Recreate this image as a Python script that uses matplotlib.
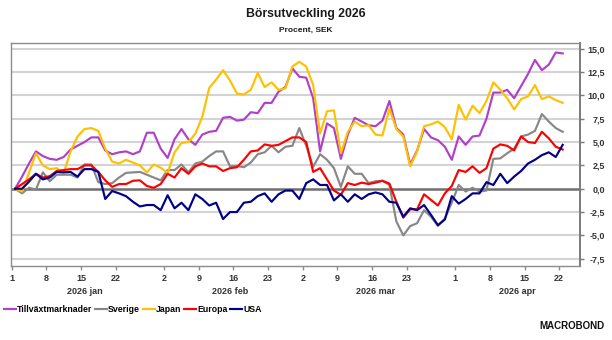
import matplotlib
matplotlib.use('Agg')
import matplotlib.pyplot as plt
import matplotlib.transforms as mtrans
from matplotlib import font_manager
import numpy as np
import pandas as pd

# business days on the x axis, one point per trading day
days = pd.bdate_range('2026-01-01', '2026-04-30')

tillvaxt = [0, 1.3, 2.7, 4.0, 3.5, 3.2, 3.1, 3.4, 4.2, 4.6,
            5.0, 5.5, 5.5, 4.1, 3.7, 3.9, 4.0, 3.7, 4.0, 6.0,
            6.0, 4.3, 3.3, 5.3, 6.4, 5.3, 4.7, 5.8, 6.1, 6.2,
            7.6, 7.7, 7.3, 7.4, 8.2, 8.1, 9.2, 9.2, 10.4, 10.9,
            12.9, 12.0, 11.9, 9.7, 4.0, 7.0, 6.5, 3.2, 5.8, 7.6,
            7.2, 6.8, 6.7, 7.3, 9.4, 6.5, 5.8, 2.6, 4.1, 6.4,
            5.5, 5.2, 4.5, 3.1, 5.6, 4.7, 5.6, 5.7, 7.5, 10.3,
            10.3, 10.6, 9.7, 11.0, 12.3, 13.8, 12.7, 13.3, 14.6, 14.5]

sverige = [0, -0.5, 0.1, -0.1, 1.75, 0.8, 1.5, 1.5, 1.5, 1.2,
           2.6, 2.6, 0.7, 0.5, 0.6, 1.2, 1.7, 1.75, 1.8, 1.5,
           1.2, 0.9, 2.0, 2.0, 2.6, 1.75, 2.7, 2.9, 3.5, 4.0,
           4.0, 2.4, 2.45, 2.3, 2.8, 3.7, 3.9, 4.6, 3.9, 4.5,
           4.6, 6.5, 4.6, 2.35, 3.7, 3.1, 2.2, 0.2, 2.4, 1.6,
           1.6, 0.6, 0.8, 0.85, 0.4, -3.5, -5.0, -4.0, -3.7, -2.3,
           -3.0, -4.0, -3.2, -1.5, 0.4, -0.3, 0.1, -0.3, -0.2, 3.2,
           3.25, 3.8, 4.3, 5.6, 5.8, 6.2, 8.0, 7.2, 6.5, 6.1]

japan = [0, -0.3, 1.7, 3.8, 2.5, 2.1, 2.2, 1.7, 4.0, 5.6,
         6.4, 6.5, 6.2, 4.3, 2.9, 2.7, 3.1, 2.8, 2.5, 1.75,
         2.6, 2.25, 1.7, 3.9, 4.9, 5.0, 5.9, 7.7, 10.8, 11.7,
         12.7, 11.6, 10.2, 10.1, 10.6, 12.4, 10.9, 11.4, 10.6, 10.75,
         13.1, 13.6, 13.1, 11.1, 5.9, 8.3, 8.4, 3.8, 6.1, 7.2,
         6.7, 6.8, 5.8, 5.7, 8.6, 6.4, 5.6, 2.4, 4.0, 6.7,
         6.9, 7.2, 6.6, 5.3, 9.0, 7.4, 8.9, 8.1, 9.4, 11.4,
         10.6, 9.7, 8.5, 9.6, 9.9, 11.1, 9.6, 9.9, 9.5, 9.2]

europa = [0, 0.5, 1.0, 1.6, 1.2, 1.35, 1.9, 2.0, 2.1, 2.1,
          2.5, 2.5, 1.8, 0.9, 0.2, 0.5, 0.5, 0.85, 0.9, 0.3,
          0.1, 0.5, 1.6, 1.2, 2.2, 1.6, 2.4, 2.7, 2.4, 2.4,
          1.9, 2.2, 2.3, 3.1, 4.0, 4.1, 4.75, 4.6, 4.7, 5.1,
          5.5, 5.5, 5.0, 1.8, 2.2, 1.0, -0.2, -0.65, 0.6, 0.4,
          0.65, 0.5, 0.65, 0.85, 0.55, -1.4, -3.1, -2.2, -2.2, -0.6,
          -1.2, -1.8, -0.5, 0.3, 2.0, 1.8, 2.4, 1.7, 2.2, 4.3,
          4.75, 4.6, 4.1, 5.6, 5.0, 4.9, 6.1, 5.4, 4.5, 4.2]

usa = [0, 0, 0.75, 1.6, 1.0, 1.2, 1.8, 1.75, 1.8, 1.3,
       2.1, 2.1, 1.8, -1.1, -0.25, -0.5, -0.8, -1.4, -1.9, -1.75,
       -1.75, -2.3, -0.7, -2.1, -1.5, -2.3, -0.6, -1.1, -1.8, -1.5,
       -3.25, -2.5, -2.5, -1.5, -1.4, -0.8, -0.5, -1.4, -0.6, -0.2,
       -0.2, -1.1, 0.6, 1.0, 0.4, 0.4, -1.25, -0.6, -1.4, -0.6,
       -1.1, -0.6, -0.4, -0.6, -1.4, -1.5, -3.0, -2.1, -2.3, -1.75,
       -2.8, -3.9, -3.3, -0.8, -1.6, -1.1, -0.5, -0.5, 0.7, 0.4,
       1.6, 0.6, 1.3, 1.9, 2.7, 3.1, 3.6, 3.9, 3.4, 4.7]

series_names = ['Tillväxtmarknader', 'Sverige', 'Japan', 'Europa', 'USA']
series_colors = ['#B040C8', '#878787', '#FFC000', '#FF0000', '#000088']

tick_dates = ['2026-01-01', '2026-01-08', '2026-01-15', '2026-01-22',
              '2026-02-02', '2026-02-09', '2026-02-16', '2026-02-23',
              '2026-03-02', '2026-03-09', '2026-03-16', '2026-03-23',
              '2026-04-01', '2026-04-08', '2026-04-15', '2026-04-22']
month_labels = ['2026 jan', '2026 feb', '2026 mar', '2026 apr']
y_ticks = [-7.5, -5, -2.5, 0, 2.5, 5, 7.5, 10, 12.5, 15]

names = {f.name for f in font_manager.fontManager.ttflist}
if 'Liberation Sans Narrow' in names:
    title_font, title_size, sub_size = 'Liberation Sans Narrow', 10.5, 7.2
else:
    title_font, title_size, sub_size = 'Liberation Sans', 8.8, 6.0
plt.rcParams['font.family'] = ['Liberation Sans', 'DejaVu Sans']

X_MIN, X_MAX = -0.14, 82.0

fig = plt.figure(figsize=(6.12, 3.4), dpi=100)
ax = fig.add_axes([10.7 / 612, 1 - 265.5 / 340, (580 - 10.7) / 612, (265.5 - 42.7) / 340])

x = np.arange(len(tillvaxt)) + 0.5
all_series = [tillvaxt, sverige, japan, europa, usa]
for name, vals, col in zip(series_names, all_series, series_colors):
    ax.plot(x, vals, color=col, lw=1.55, label=name, zorder=3)

ax.set_xlim(X_MIN, X_MAX)
ax.set_ylim(-8.23, 15.65)

# grid and zero line
for v in y_ticks:
    if v == 0:
        ax.axhline(v, color='#6E6E6E', lw=1.8, zorder=2)
    else:
        ax.axhline(v, color='#D3D3D3', lw=1.5, zorder=1)

for s in ['top', 'left', 'bottom']:
    ax.spines[s].set_color('#8C8C8C')
    ax.spines[s].set_linewidth(1.0)
ax.spines['right'].set_color('#7A7A7A')
ax.spines['right'].set_linewidth(1.4)

ax.yaxis.tick_right()
ax.set_yticks(y_ticks)
ax.set_yticklabels([f'{v:.1f}'.replace('.', ',') for v in y_ticks],
                   fontsize=6.5, fontweight='bold', color='#333333', ha='right')
ax.tick_params(axis='y', length=3, width=1, color='#7A7A7A', pad=15)

tick_pos = [days.get_loc(pd.Timestamp(d)) for d in tick_dates]
ax.set_xticks(tick_pos)
ax.set_xticklabels([str(pd.Timestamp(d).day) for d in tick_dates],
                   fontsize=6.5, fontweight='bold', color='#333333')
ax.tick_params(axis='x', length=3, width=1, color='#8C8C8C', pad=3)

# month labels under the day ticks
trans = mtrans.blended_transform_factory(ax.transData, fig.transFigure)
for m, lab in zip([1, 2, 3, 4], month_labels):
    idx = np.where(days.month == m)[0]
    center = (idx.min() + min(idx.max(), X_MAX)) / 2
    ax.text(center, 1 - 291 / 340, lab, transform=trans, ha='center', va='center',
            fontsize=6.5, fontweight='bold', color='#333333')

fig.text(0.5, 1 - 14 / 340, 'Börsutveckling 2026', ha='center', va='center',
         fontsize=title_size, fontweight='bold', family=title_font, color='#1A1A1A')
fig.text(0.5, 1 - 30 / 340, 'Procent, SEK', ha='center', va='center',
         fontsize=sub_size, fontweight='bold', family=title_font, color='#1A1A1A')

handles, labels = ax.get_legend_handles_labels()
fig.legend(handles, labels, loc='center left', bbox_to_anchor=(4 / 612, 1 - 310 / 340),
           ncol=5, frameon=False, handlelength=1.35, handletextpad=0.15,
           columnspacing=0.3, borderpad=0, borderaxespad=0,
           prop={'size': 6.3, 'weight': 'bold'})

fig.text(605 / 612, 1 - 326 / 340, 'MACROBOND', ha='right', va='center',
         fontsize=7, fontweight='bold', color='#111111')

fig.savefig('out.png', dpi=100)
plt.close(fig)
